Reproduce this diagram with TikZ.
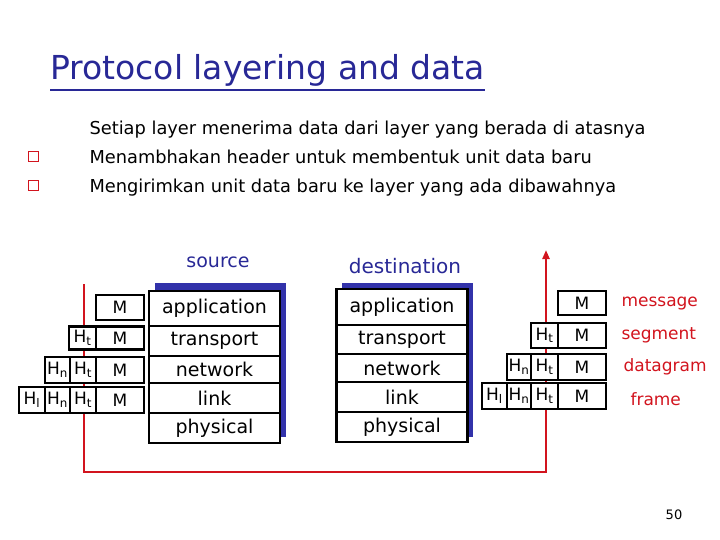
\documentclass[tikz,border=0pt]{standalone}
\usepackage{fontspec}
\setmainfont{DejaVu Sans}
\usetikzlibrary{arrows.meta}
\definecolor{navy}{RGB}{40,40,150}
\definecolor{stk}{RGB}{50,50,170}
\definecolor{rd}{RGB}{210,20,30}
\begin{document}
\begin{tikzpicture}[x=1pt,y=-1pt,
  lay/.style={draw,line width=2.2pt,fill=white,minimum width=131pt,inner sep=0pt,font=\fontsize{19}{19}\selectfont},
  hb/.style={draw,line width=2.2pt,fill=white,inner sep=0pt,font=\fontsize{17}{17}\selectfont},
  lbl/.style={text=rd,font=\fontsize{17}{17}\selectfont,anchor=west},
  bul/.style={draw=rd,line width=1pt,minimum size=10pt,inner sep=0pt},
  body/.style={anchor=base west,font=\fontsize{17.8}{18}\selectfont}]
\useasboundingbox (0,0) rectangle (720,540);
\node[anchor=base west,text=navy,font=\fontsize{33}{33}\selectfont,inner sep=0pt] (title) at (50,80) {Protocol layering and data};
\draw[navy,line width=1.5pt] (title.south west) ++(0,3) -- ([yshift=-3pt]title.south east);
\node[body] (l1) at (86,135) {Setiap layer menerima data dari layer yang berada di atasnya};
\node[body] (l2) at (86,164) {Menambhakan header untuk membentuk unit data baru};
\node[body] (l3) at (86,193) {Mengirimkan unit data baru ke layer yang ada dibawahnya};
\node[bul] (b2) at (33,157) {};
\node[bul] (b3) at (33,186) {};
\node[text=navy,font=\fontsize{19}{19}\selectfont] (src) at (218,262) {source};
\node[text=navy,font=\fontsize{20}{20}\selectfont] (dst) at (405,266) {destination};
% red path
\coordinate (r0) at (84,284);
\coordinate (r1) at (84,472);
\coordinate (r2) at (546,472);
\coordinate (r3) at (546,250);
\draw[rd,line width=2.2pt,-{Triangle[length=9pt,width=7pt]}] (r0) -- (r1) -- (r2) -- (r3);
% shadows
\fill[stk] (155,283) rectangle (286,437);
\fill[stk] (342,283) rectangle (473,437);
% stacks
\foreach \n/\t/\a/\b in {sa/application/291/326,st/transport/326/356,sn/network/356/383,sl/link/383/413,sp/physical/413/443}{
  \node[lay,minimum height=\b pt-\a pt] (\n) at (214.5,{(\a+\b)/2}) {\t};}
\foreach \n/\t/\a/\b in {da/application/289/325,dt/transport/325/354,dn/network/354/382,dl/link/382/412,dp/physical/412/442}{
  \node[lay,minimum height=\b pt-\a pt] (\n) at (402,{(\a+\b)/2}) {\t};}
% left headers
\node[hb,minimum width=48pt,minimum height=25pt] (m1) at (120,307.5) {M};
\node[hb,minimum width=48pt,minimum height=23pt] (m2) at (120,338) {M};
\node[hb,minimum width=27pt,minimum height=23pt] (t2) at (82.5,338) {H$_\mathrm{t}$};
\node[hb,minimum width=48pt,minimum height=26pt] (m3) at (120,370) {M};
\node[hb,minimum width=26pt,minimum height=26pt] (t3) at (83,370) {H$_\mathrm{t}$};
\node[hb,minimum width=25pt,minimum height=26pt] (n3) at (57.5,370) {H$_\mathrm{n}$};
\node[hb,minimum width=48pt,minimum height=26pt] (m4) at (120,400) {M};
\node[hb,minimum width=26pt,minimum height=26pt] (t4) at (83,400) {H$_\mathrm{t}$};
\node[hb,minimum width=25pt,minimum height=26pt] (n4) at (57.5,400) {H$_\mathrm{n}$};
\node[hb,minimum width=26pt,minimum height=26pt] (h4) at (32,400) {H$_\mathrm{l}$};
% right headers
\node[hb,minimum width=48pt,minimum height=24pt] (rm1) at (582,303) {M};
\node[hb,minimum width=48pt,minimum height=25pt] (rm2) at (582,335.5) {M};
\node[hb,minimum width=27pt,minimum height=25pt] (rt2) at (544.5,335.5) {H$_\mathrm{t}$};
\node[hb,minimum width=48pt,minimum height=26pt] (rm3) at (582,367) {M};
\node[hb,minimum width=27pt,minimum height=26pt] (rt3) at (544.5,367) {H$_\mathrm{t}$};
\node[hb,minimum width=24pt,minimum height=26pt] (rn3) at (519,367) {H$_\mathrm{n}$};
\node[hb,minimum width=48pt,minimum height=26pt] (rm4) at (582,396) {M};
\node[hb,minimum width=27pt,minimum height=26pt] (rt4) at (544.5,396) {H$_\mathrm{t}$};
\node[hb,minimum width=24pt,minimum height=26pt] (rn4) at (519,396) {H$_\mathrm{n}$};
\node[hb,minimum width=25pt,minimum height=26pt] (rh4) at (494.5,396) {H$_\mathrm{l}$};
\node[lbl] (msg) at (618,304) {message};
\node[lbl] (seg) at (618,335) {segment};
\node[lbl] (dg) at (620,367) {datagram};
\node[lbl] (fr) at (627,399) {frame};
\node[font=\fontsize{13}{13}\selectfont] (pg) at (674,515) {50};
\end{tikzpicture}
\end{document}
